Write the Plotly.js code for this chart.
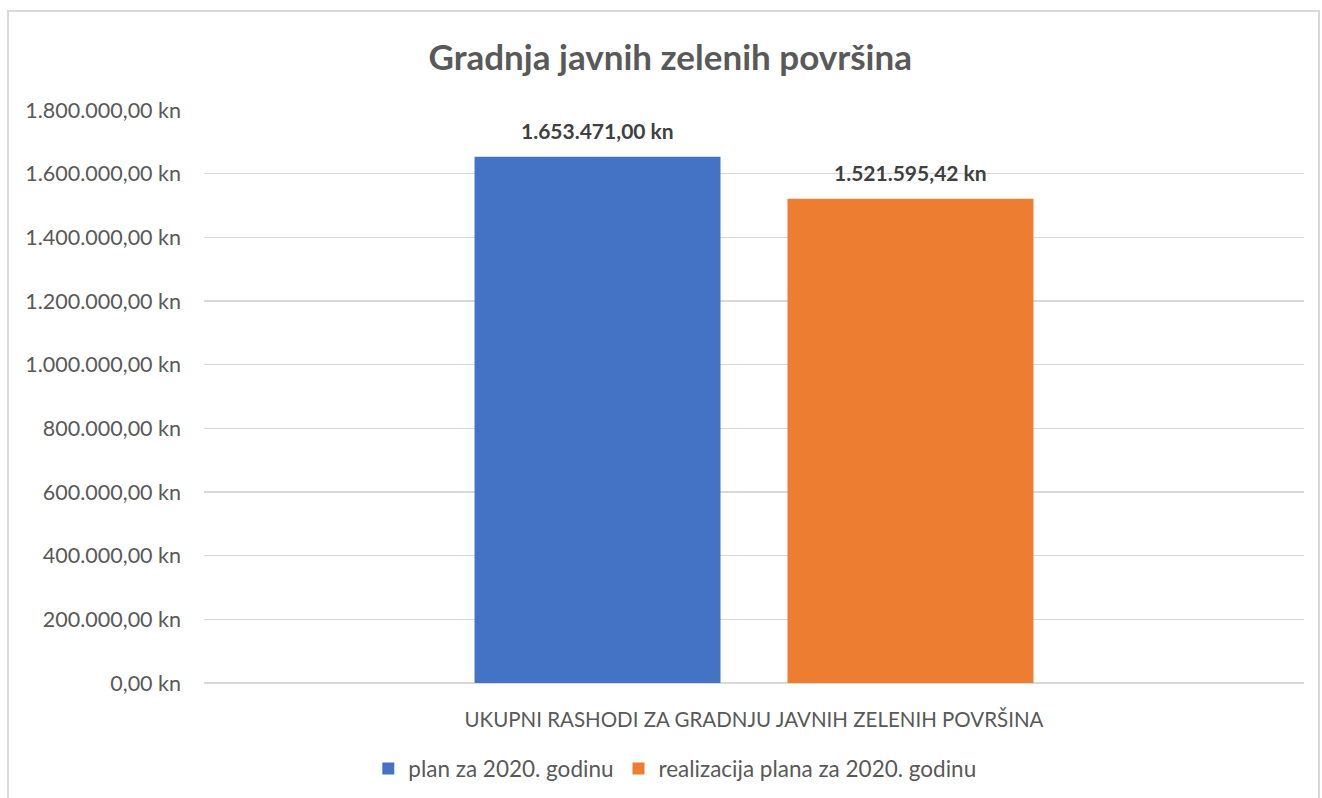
<!DOCTYPE html>
<html>
<head>
<meta charset="utf-8">
<script src="https://cdn.plot.ly/plotly-3.0.1.min.js"></script>
<style>
html,body{margin:0;padding:0;background:#fff;}
#chart{width:1322px;height:798px;}
#frame{position:absolute;left:7px;top:10px;width:1313px;height:800px;border:2px solid #d9d9d9;pointer-events:none;box-sizing:border-box;}
</style>
</head>
<body>
<div id="chart"></div>
<div id="frame"></div>
<script>
const categories = ["UKUPNI RASHODI ZA GRADNJU JAVNIH ZELENIH POVRŠINA"];
const seriesNames = ["plan za 2020. godinu", "realizacija plana za 2020. godinu"];
const planValues = [1653471.00];
const realValues = [1521595.42];
const planLabels = ["1.653.471,00 kn"];
const realLabels = ["1.521.595,42 kn"];
const tickValues = [0, 200000, 400000, 600000, 800000, 1000000, 1200000, 1400000, 1600000, 1800000];
const tickLabels = ["0,00 kn", "200.000,00 kn", "400.000,00 kn", "600.000,00 kn", "800.000,00 kn", "1.000.000,00 kn", "1.200.000,00 kn", "1.400.000,00 kn", "1.600.000,00 kn", "1.800.000,00 kn"];

const font = "Lato, 'Noto Sans', sans-serif";
const labelFont = {family: font, size: 21, color: "#404040", weight: "bold"};

const bargap = 0.431, bargroupgap = 0.214;
const seriesCount = 2;
const slot = (1 - bargap) / seriesCount;

const traces = [
  {type: "bar", name: seriesNames[0], x: categories, y: planValues,
   marker: {color: "#4472c4"}, hoverinfo: "none"},
  {type: "bar", name: seriesNames[1], x: categories, y: realValues,
   marker: {color: "#ed7d31"}, hoverinfo: "none"}
];

const annotations = [];
[[planValues, planLabels], [realValues, realLabels]].forEach(([vals, labs], s) => {
  vals.forEach((v, i) => {
    annotations.push({
      x: i + (s - (seriesCount - 1) / 2) * slot, xref: "x",
      y: v, yref: "y", yanchor: "bottom", yshift: 12,
      text: "<b>" + labs[i] + "</b>", showarrow: false, font: labelFont
    });
  });
});

const layout = {
  width: 1322, height: 798,
  margin: {l: 204, r: 18, t: 110, b: 115, autoexpand: false},
  paper_bgcolor: "#ffffff", plot_bgcolor: "#ffffff",
  font: {family: font, color: "#595959"},
  title: {text: "<b>Gradnja javnih zelenih površina</b>", font: {family: font, size: 35, color: "#595959"},
          x: 0.507, xref: "container", xanchor: "center", y: 0.928, yref: "container", yanchor: "middle"},
  barmode: "group", bargap: bargap, bargroupgap: bargroupgap,
  xaxis: {showgrid: false, zeroline: false, showline: false, ticks: "", automargin: false,
          tickfont: {family: font, size: 20.5, color: "#595959"}, ticklabelstandoff: 22},
  yaxis: {range: [0, 1800000], tickvals: tickValues, ticktext: tickLabels, automargin: false,
          showgrid: true, gridcolor: "#d9d9d9", gridwidth: 1.5, zeroline: true, zerolinecolor: "#d9d9d9", zerolinewidth: 1.5,
          showline: false, ticks: "", tickfont: {family: font, size: 21.5, color: "#595959"}, ticklabelstandoff: 22},
  annotations: annotations,
  showlegend: true,
  legend: {orientation: "h", x: 0.428, xanchor: "center", y: -0.15, yanchor: "middle",
           font: {family: font, size: 22.5, color: "#595959"}, itemwidth: 30, traceorder: "normal"}
};

Plotly.newPlot("chart", traces, layout, {displayModeBar: false, staticPlot: true});
</script>
</body>
</html>
